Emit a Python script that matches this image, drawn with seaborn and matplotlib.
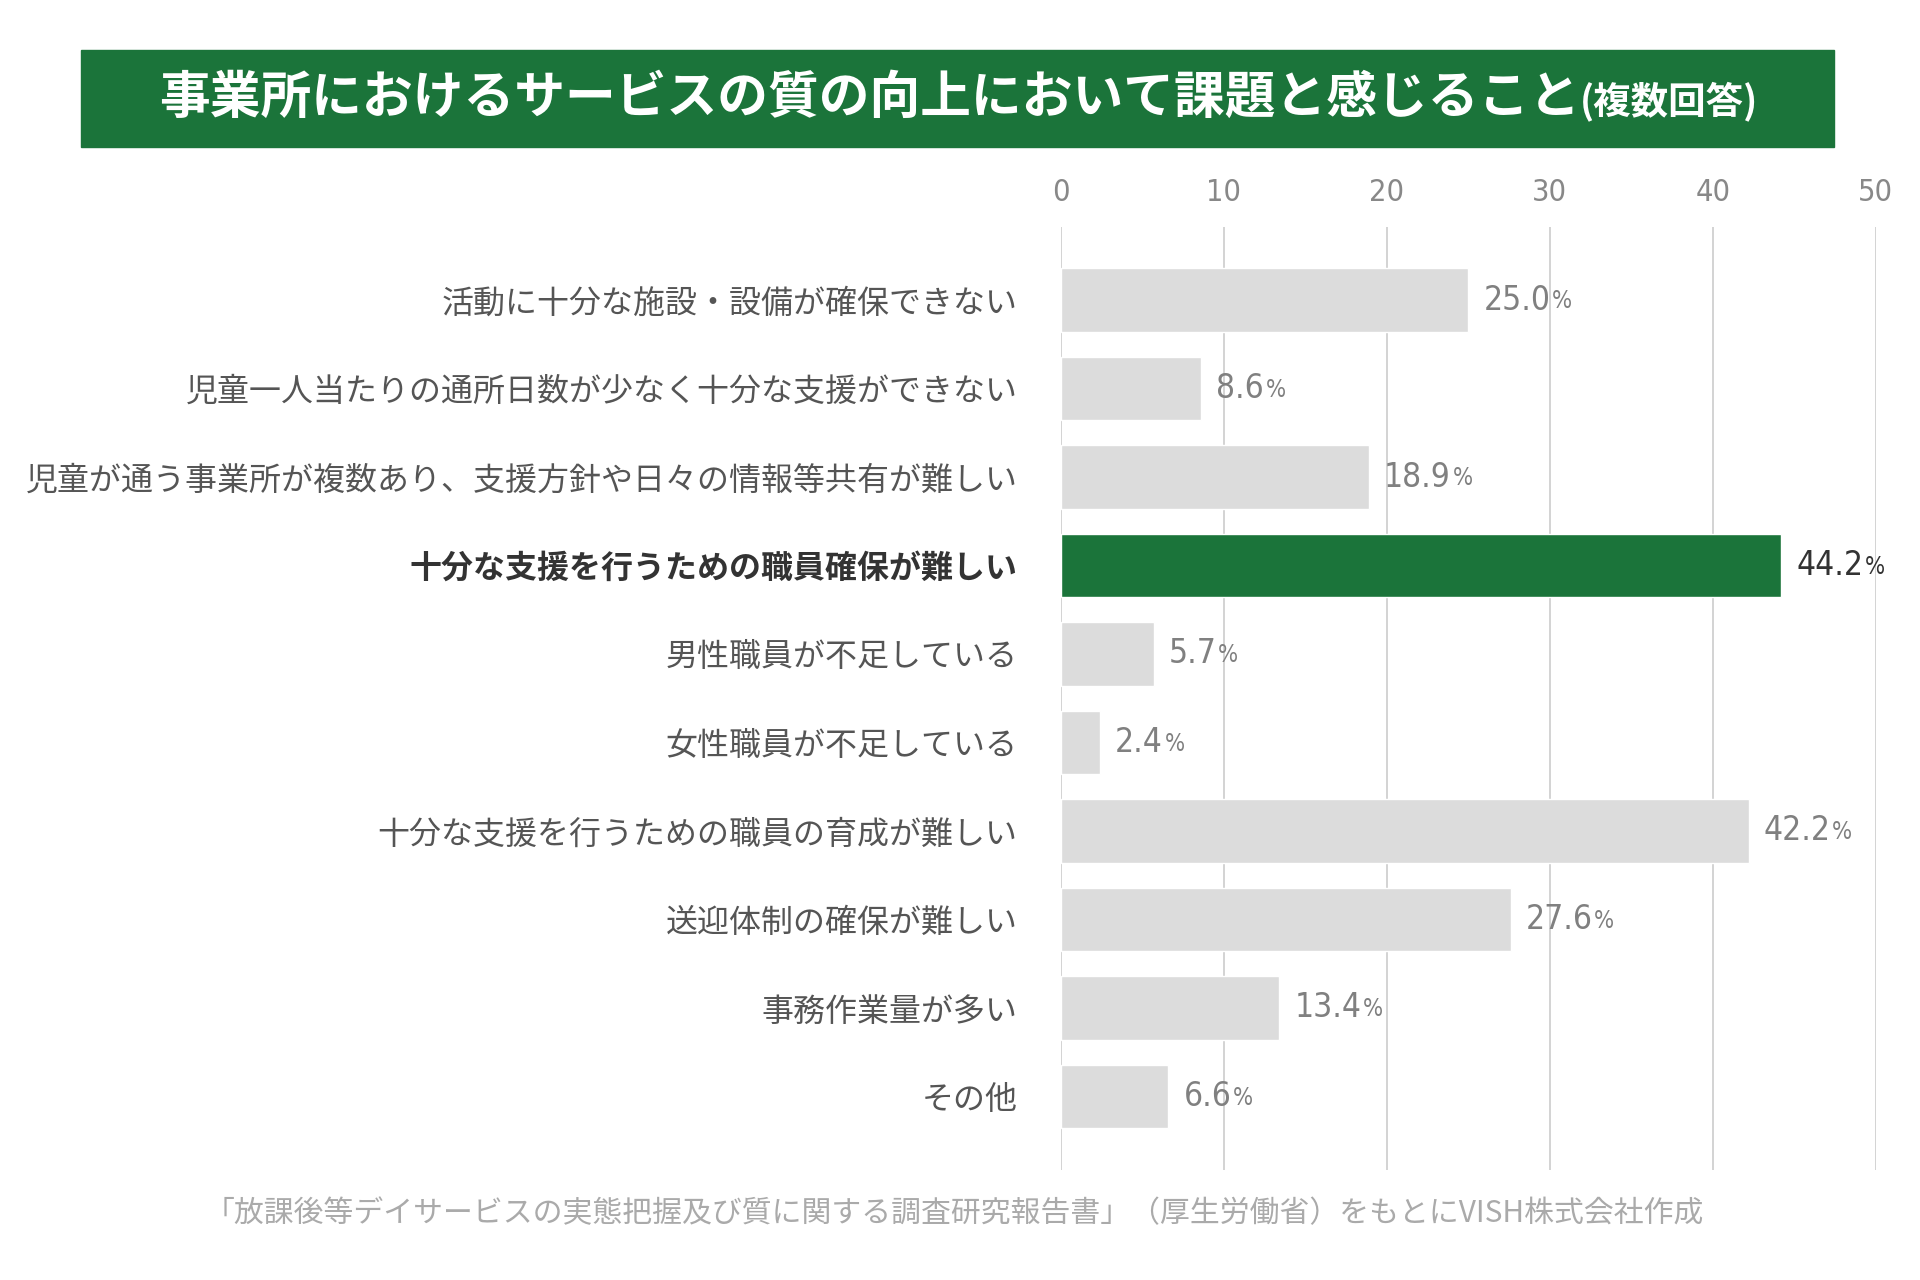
import matplotlib
matplotlib.use("Agg")
import matplotlib.pyplot as plt
import seaborn as sns
import pandas as pd

# データ
categories = [
    "活動に十分な施設・設備が確保できない",
    "児童一人当たりの通所日数が少なく十分な支援ができない",
    "児童が通う事業所が複数あり、支援方針や日々の情報等共有が難しい",
    "十分な支援を行うための職員確保が難しい",
    "男性職員が不足している",
    "女性職員が不足している",
    "十分な支援を行うための職員の育成が難しい",
    "送迎体制の確保が難しい",
    "事務作業量が多い",
    "その他",
]
values = [25.0, 8.6, 18.9, 44.2, 5.7, 2.4, 42.2, 27.6, 13.4, 6.6]
highlight = "十分な支援を行うための職員確保が難しい"
xticks = [0, 10, 20, 30, 40, 50]

title = "事業所におけるサービスの質の向上において課題と感じること"
title_sub = "(複数回答)"
source = "「放課後等デイサービスの実態把握及び質に関する調査研究報告書」（厚生労働省）をもとにVISH株式会社作成"

df = pd.DataFrame({"項目": categories, "割合": values})

sns.set_style("white")
plt.rcParams["font.family"] = ["Noto Sans CJK JP", "DejaVu Sans"]

GREEN = "#1b743a"
GRAY_BAR = "#dcdcdc"
num_font = ["DejaVu Sans"]

fig = plt.figure(figsize=(19.2, 12.8), dpi=100)
ax = fig.add_axes([0.5525, 0.086, 0.4245, 0.737])

palette = {c: (GREEN if c == highlight else GRAY_BAR) for c in categories}
sns.barplot(data=df, x="割合", y="項目", hue="項目", palette=palette,
            order=categories, width=0.72, legend=False, ax=ax, saturation=1)

ax.set_xlim(0, 50)
ax.set_ylim(len(categories) - 1 + 0.83, -0.83)
ax.set_xticks(xticks)
ax.xaxis.tick_top()
ax.tick_params(axis="x", length=0, pad=14, labelsize=22, labelcolor="#888888")
for lbl in ax.get_xticklabels():
    lbl.set_fontfamily(num_font)
    lbl.set_fontstretch("condensed")
ax.tick_params(axis="y", length=0, pad=31, labelsize=23, labelcolor="#555555")
for lbl in ax.get_yticklabels():
    if lbl.get_text() == highlight:
        lbl.set_fontweight("bold")
        lbl.set_color("#333333")

ax.grid(axis="x", color="#cccccc", linewidth=1.2)
ax.set_axisbelow(True)
for s in ax.spines.values():
    s.set_visible(False)
ax.set_xlabel("")
ax.set_ylabel("")

for i, (c, v) in enumerate(zip(categories, values)):
    col = "#333333" if c == highlight else "#808080"
    t = ax.annotate(f"{v:.1f}", xy=(v, i), xytext=(11, 0), textcoords="offset points",
                    va="center", ha="left", fontsize=24, color=col,
                    family=num_font, fontstretch="condensed")
    ax.annotate("%", xy=(1, 0.1), xycoords=t, xytext=(1, 0), textcoords="offset points",
                va="bottom", ha="left", fontsize=17, color=col,
                family=num_font, fontstretch="condensed")

# タイトル帯
fig.patches.append(plt.Rectangle((0.042, 0.885), 0.913, 0.076, transform=fig.transFigure,
                                 color=GREEN, zorder=0))
t = fig.text(0.083, 0.923, title, color="white", fontsize=36.5, fontweight="bold",
             va="center", ha="left")
fig.canvas.draw()
bb = t.get_window_extent().transformed(fig.transFigure.inverted())
fig.text(bb.x1, 0.921, title_sub, color="white", fontsize=27, fontweight="bold",
         va="center", ha="left")

fig.text(0.497, 0.052, source, color="#aaaaaa", fontsize=21.5, ha="center", va="center")

fig.savefig("out.png", dpi=100, facecolor="white")
